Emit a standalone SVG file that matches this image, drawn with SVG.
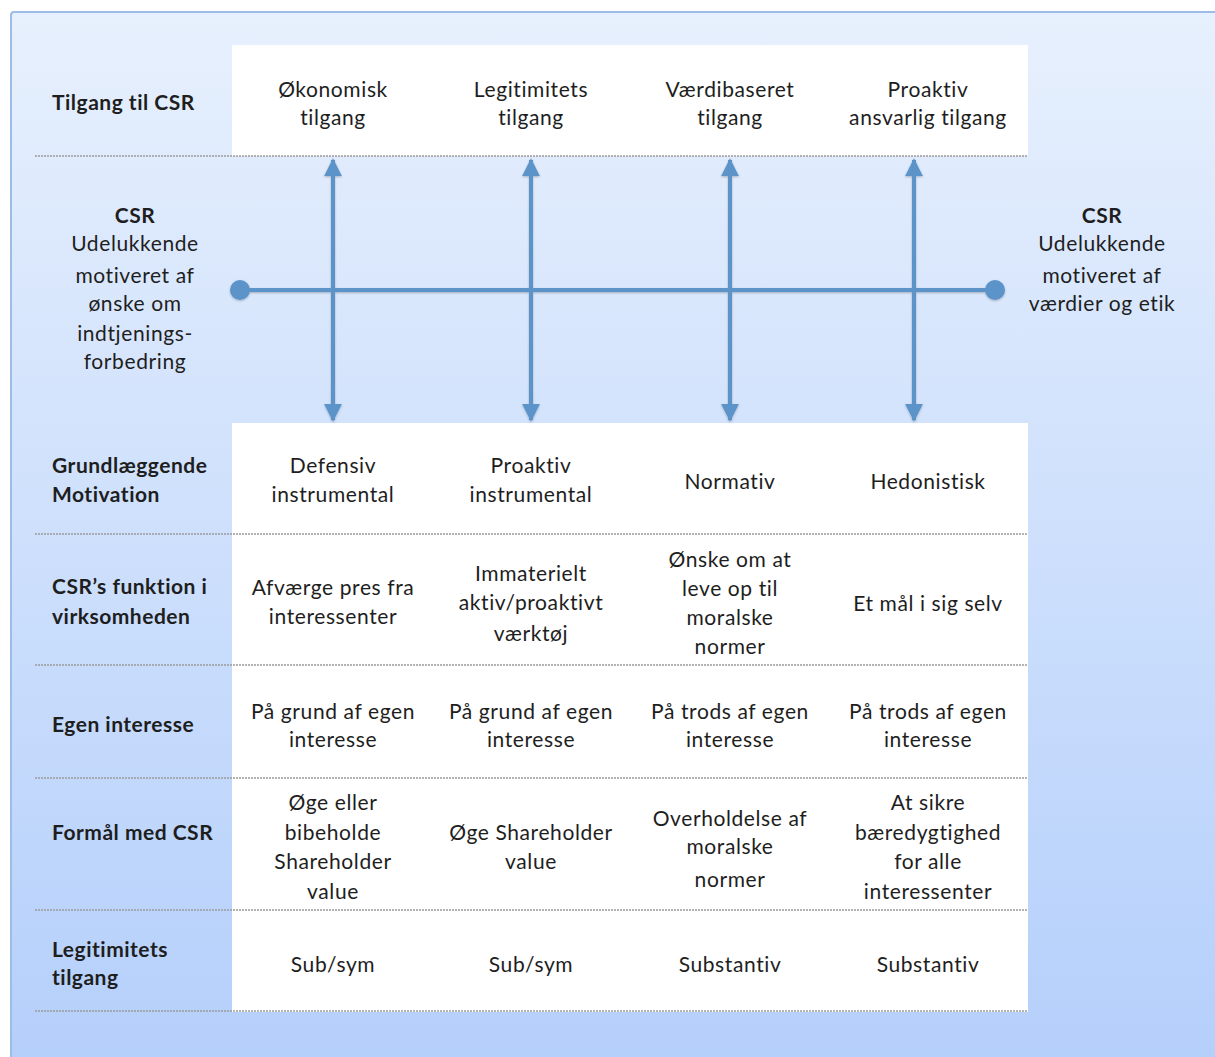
<svg xmlns="http://www.w3.org/2000/svg" width="1215" height="1057" viewBox="0 0 1215 1057">
<defs>
<linearGradient id="bg" x1="0" y1="0" x2="0" y2="1">
<stop offset="0" stop-color="#e7f0fd"/>
<stop offset="1" stop-color="#b4cffb"/>
</linearGradient>
<marker id="ah" viewBox="0 0 10 10" refX="9" refY="5" markerWidth="4.5" markerHeight="4.5" orient="auto-start-reverse" markerUnits="strokeWidth">
<path d="M0,0 L10,5 L0,10 z" fill="#5b93c9"/>
</marker>
<filter id="sh" x="-5%" y="-5%" width="110%" height="110%">
<feDropShadow dx="0" dy="1" stdDeviation="1" flood-color="#000" flood-opacity="0.25"/>
</filter>
</defs>
<style>
text{font-family:Lato,"Open Sans","Liberation Sans",sans-serif;font-size:21px;letter-spacing:0.6px;fill:#1e1e1e;text-anchor:middle}
.lb{font-weight:bold;text-anchor:start;letter-spacing:0.5px}
.b{font-weight:bold}
.dash{stroke:#9a9a9a;stroke-width:1.5;stroke-dasharray:2 1;fill:none}
.arr{stroke:#5b93c9;stroke-width:4;fill:none}
</style>
<rect x="0" y="0" width="1215" height="1057" fill="#ffffff"/>
<rect x="11" y="12" width="1220" height="1060" rx="3" fill="url(#bg)" stroke="#9dbde6" stroke-width="2"/>
<rect x="232" y="45" width="796" height="111" fill="#ffffff"/>
<rect x="232" y="423" width="796" height="589" fill="#ffffff"/>

<g id="gridlines">
<line class="dash" x1="35" y1="156" x2="1028" y2="156"/>
<line class="dash" x1="35" y1="534" x2="1028" y2="534"/>
<line class="dash" x1="35" y1="665" x2="1028" y2="665"/>
<line class="dash" x1="35" y1="778" x2="1028" y2="778"/>
<line class="dash" x1="35" y1="910" x2="1028" y2="910"/>
<line class="dash" x1="35" y1="1011" x2="1028" y2="1011"/>
</g>

<g id="connectors" filter="url(#sh)">
<line class="arr" x1="240" y1="290" x2="995" y2="290"/>
<circle cx="240" cy="290" r="10" fill="#5b93c9"/>
<circle cx="995" cy="290" r="10" fill="#5b93c9"/>
<line class="arr" x1="333" y1="160" x2="333" y2="420" marker-start="url(#ah)" marker-end="url(#ah)"/>
<line class="arr" x1="531" y1="160" x2="531" y2="420" marker-start="url(#ah)" marker-end="url(#ah)"/>
<line class="arr" x1="730" y1="160" x2="730" y2="420" marker-start="url(#ah)" marker-end="url(#ah)"/>
<line class="arr" x1="914" y1="160" x2="914" y2="420" marker-start="url(#ah)" marker-end="url(#ah)"/>
</g>

<g id="row-labels">
<text class="lb" x="52" y="110">Tilgang til CSR</text>
<text class="lb" x="52" y="473">Grundlæggende</text>
<text class="lb" x="52" y="502">Motivation</text>
<text class="lb" x="52" y="594">CSR’s funktion i</text>
<text class="lb" x="52" y="624">virksomheden</text>
<text class="lb" x="52" y="732">Egen interesse</text>
<text class="lb" x="52" y="840">Formål med CSR</text>
<text class="lb" x="52" y="957">Legitimitets</text>
<text class="lb" x="52" y="985">tilgang</text>
</g>

<g id="csr-left">
<text class="b" x="135" y="223">CSR</text>
<text x="135" y="251">Udelukkende</text>
<text x="135" y="283">motiveret af</text>
<text x="135" y="311">ønske om</text>
<text x="135" y="341">indtjenings-</text>
<text x="135" y="369">forbedring</text>
</g>
<g id="csr-right">
<text class="b" x="1102" y="223">CSR</text>
<text x="1102" y="251">Udelukkende</text>
<text x="1102" y="283">motiveret af</text>
<text x="1102" y="311">værdier og etik</text>
</g>

<g id="row-tilgang">
<text x="333" y="97">Økonomisk</text><text x="333" y="125">tilgang</text>
<text x="531" y="97">Legitimitets</text><text x="531" y="125">tilgang</text>
<text x="730" y="97">Værdibaseret</text><text x="730" y="125">tilgang</text>
<text x="928" y="97">Proaktiv</text><text x="928" y="125">ansvarlig tilgang</text>
</g>

<g id="row-motivation">
<text x="333" y="473">Defensiv</text><text x="333" y="502">instrumental</text>
<text x="531" y="473">Proaktiv</text><text x="531" y="502">instrumental</text>
<text x="730" y="489">Normativ</text>
<text x="928" y="489">Hedonistisk</text>
</g>

<g id="row-funktion">
<text x="333" y="595">Afværge pres fra</text><text x="333" y="624">interessenter</text>
<text x="531" y="581">Immaterielt</text><text x="531" y="610">aktiv/proaktivt</text><text x="531" y="641">værktøj</text>
<text x="730" y="567">Ønske om at</text><text x="730" y="596">leve op til</text><text x="730" y="625">moralske</text><text x="730" y="654">normer</text>
<text x="928" y="611">Et mål i sig selv</text>
</g>

<g id="row-egen">
<text x="333" y="719">På grund af egen</text><text x="333" y="747">interesse</text>
<text x="531" y="719">På grund af egen</text><text x="531" y="747">interesse</text>
<text x="730" y="719">På trods af egen</text><text x="730" y="747">interesse</text>
<text x="928" y="719">På trods af egen</text><text x="928" y="747">interesse</text>
</g>

<g id="row-formaal">
<text x="333" y="810">Øge eller</text><text x="333" y="840">bibeholde</text><text x="333" y="869">Shareholder</text><text x="333" y="899">value</text>
<text x="531" y="840">Øge Shareholder</text><text x="531" y="869">value</text>
<text x="730" y="826">Overholdelse af</text><text x="730" y="854">moralske</text><text x="730" y="887">normer</text>
<text x="928" y="810">At sikre</text><text x="928" y="840">bæredygtighed</text><text x="928" y="869">for alle</text><text x="928" y="899">interessenter</text>
</g>

<g id="row-legitimitet">
<text x="333" y="972">Sub/sym</text>
<text x="531" y="972">Sub/sym</text>
<text x="730" y="972">Substantiv</text>
<text x="928" y="972">Substantiv</text>
</g>
</svg>
